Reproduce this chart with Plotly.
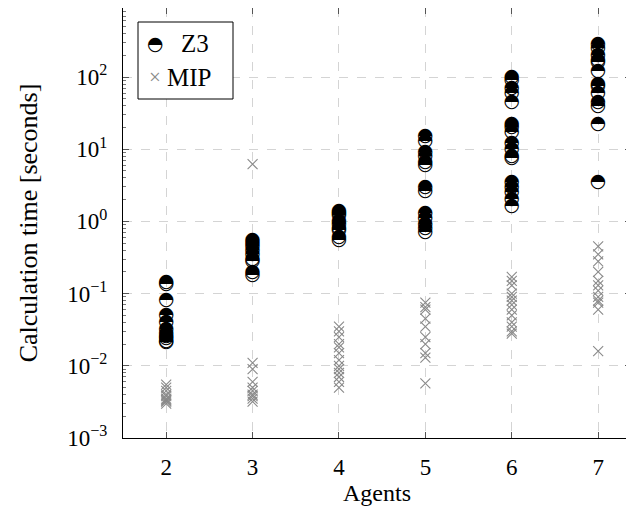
import plotly.graph_objects as go

agents = [2, 3, 4, 5, 6, 7]

z3_2 = [0.145, 0.135, 0.08, 0.05, 0.04, 0.032, 0.028, 0.026, 0.024, 0.022, 0.021]
z3_3 = [0.55, 0.5, 0.45, 0.4, 0.35, 0.3, 0.28, 0.2, 0.18]
z3_4 = [1.4, 1.3, 1.2, 1.0, 0.9, 0.8, 0.75, 0.6, 0.55]
z3_5 = [15, 13, 9, 8, 6.5, 6, 3, 2.6, 1.3, 1.1, 0.9, 0.8, 0.7]
z3_6 = [100, 90, 70, 60, 45, 22, 20, 17, 12, 10, 8, 7.5, 3.5, 3, 2.5, 2, 1.6]
z3_7 = [280, 250, 200, 170, 160, 120, 80, 75, 60, 45, 40, 22, 3.5]

mip_2 = [0.0055, 0.005, 0.0045, 0.004, 0.0038, 0.0035, 0.0034, 0.0033, 0.0032, 0.003]
mip_3 = [6.2, 0.011, 0.009, 0.006, 0.005, 0.0045, 0.004, 0.0038, 0.0035, 0.0032]
mip_4 = [0.035, 0.03, 0.025, 0.02, 0.018, 0.015, 0.012, 0.01, 0.009, 0.008, 0.007, 0.006, 0.005]
mip_5 = [0.075, 0.065, 0.06, 0.045, 0.035, 0.025, 0.02, 0.015, 0.013, 0.0057]
mip_6 = [0.17, 0.15, 0.13, 0.1, 0.09, 0.08, 0.07, 0.06, 0.05, 0.04, 0.035, 0.03, 0.028]
mip_7 = [0.45, 0.35, 0.28, 0.2, 0.15, 0.13, 0.11, 0.09, 0.08, 0.075, 0.06, 0.016]

z3_all = [z3_2, z3_3, z3_4, z3_5, z3_6, z3_7]
mip_all = [mip_2, mip_3, mip_4, mip_5, mip_6, mip_7]

y_exponents = [-3, -2, -1, 0, 1, 2]
y_ticktext = ["10<sup>−3</sup>", "10<sup>−2</sup>", "10<sup>−1</sup>",
              "10<sup>0</sup>", "10<sup>1</sup>", "10<sup>2</sup>"]

FONT = "Liberation Serif"
GRAY = "#8a8a8a"

zx, zy = [], []
for a, vals in zip(agents, z3_all):
    zx += [a] * len(vals)
    zy += vals
mx, my = [], []
for a, vals in zip(agents, mip_all):
    mx += [a] * len(vals)
    my += vals

fig = go.Figure()
fig.add_trace(go.Scatter(
    x=mx, y=my, mode="markers", name="MIP", showlegend=False,
    marker=dict(symbol="x-thin", size=10, line=dict(color=GRAY, width=1.1), color=GRAY),
))
fig.add_trace(go.Scatter(
    x=zx, y=zy, mode="text", name="Z3", showlegend=False,
    text=["◓"] * len(zx), textposition="middle center",
    textfont=dict(family="DejaVu Sans", size=19, color="black"),
))

# legend box
fig.add_shape(type="rect", xref="paper", yref="paper",
              x0=(138 - 123) / 508, x1=(233 - 123) / 508,
              y0=(438 - 99) / 430, y1=(438 - 22) / 430,
              line=dict(color="black", width=1), fillcolor="white", layer="above")
fig.add_annotation(xref="paper", yref="paper", x=(155 - 123) / 508, y=(438 - 43) / 430,
                   xanchor="center", yanchor="middle", text="◓",
                   showarrow=False, font=dict(family="DejaVu Sans", size=19, color="black"))
fig.add_annotation(xref="paper", yref="paper", x=(179 - 123) / 508, y=(438 - 43) / 430,
                   xanchor="left", yanchor="middle", text="Z3",
                   showarrow=False, font=dict(family=FONT, size=25, color="black"))
fig.add_annotation(xref="paper", yref="paper", x=(155 - 123) / 508, y=(438 - 77) / 430,
                   xanchor="center", yanchor="middle", text="×",
                   showarrow=False, font=dict(family=FONT, size=21, color=GRAY))
fig.add_annotation(xref="paper", yref="paper", x=(165 - 123) / 508, y=(438 - 77) / 430,
                   xanchor="left", yanchor="middle", text="MIP",
                   showarrow=False, font=dict(family=FONT, size=25, color="black"))

fig.update_layout(
    width=626, height=502,
    margin=dict(l=115, r=3, t=0, b=72),
    plot_bgcolor="white", paper_bgcolor="white",
    font=dict(family=FONT, size=23, color="black"),
    showlegend=False,
)
fig.update_xaxes(
    range=[1.5, 7.38], tickvals=agents, ticktext=[str(a) for a in agents],
    showline=True, linecolor="black", linewidth=1, mirror="ticks",
    ticks="inside", ticklen=6, tickcolor="#555", ticklabelstandoff=8,
    showgrid=True, gridcolor="#d4d4d4", griddash="dash", gridwidth=1,
    zeroline=False,
    title=dict(text="Agents", font=dict(size=24), standoff=5),
    tickfont=dict(size=23),
)
fig.update_yaxes(
    type="log", range=[-3, 2.956],
    tickvals=[10 ** e for e in y_exponents], ticktext=y_ticktext,
    showline=True, linecolor="black", linewidth=1, mirror="ticks",
    ticks="inside", ticklen=6, tickcolor="#555", ticklabelstandoff=10,
    minor=dict(ticks="inside", ticklen=3, tickcolor="#777", dtick="D1", showgrid=False),
    showgrid=True, gridcolor="#d4d4d4", griddash="dash", gridwidth=1,
    zeroline=False,
    title=dict(text="Calculation time [seconds]", font=dict(size=26), standoff=22),
    tickfont=dict(size=23),
)

fig.write_html("out.html")
